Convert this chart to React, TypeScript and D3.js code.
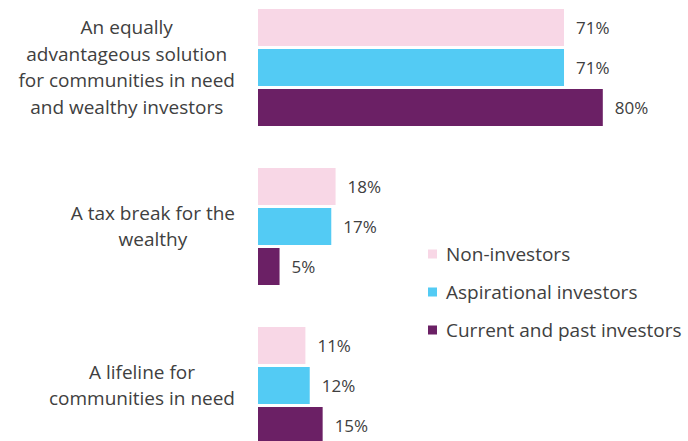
import React from "react";
import * as d3 from "d3";

const categories: string[][] = [
  ["An equally", "advantageous solution", "for communities in need", "and wealthy investors"],
  ["A tax break for the", "wealthy"],
  ["A lifeline for", "communities in need"],
];
const seriesNames = ["Non-investors", "Aspirational investors", "Current and past investors"];
const nonInvestors = [71, 18, 11];
const aspirational = [71, 17, 12];
const currentPast = [80, 5, 15];
const seriesValues = [nonInvestors, aspirational, currentPast];
const colors = ["#F8D7E6", "#53CBF4", "#6B2065"];

const W = 688;
const H = 441;
const FONT = "'Open Sans', sans-serif";
const TEXT = "#404040";

let ctx: CanvasRenderingContext2D | null = null;
function measure(t: string, size: number) {
  if (!ctx) ctx = document.createElement("canvas").getContext("2d");
  if (!ctx) return t.length * size * 0.5;
  ctx.font = `${size}px 'Open Sans'`;
  return ctx.measureText(t).width;
}

export default function App() {
  const x = d3.scaleLinear().domain([0, 100]).range([258, 258 + 431]);
  const yGroup = d3.scaleBand<number>().domain([0, 1, 2]).range([9, 9 + 3 * 159]).paddingInner(0).paddingOuter(0);
  const ySeries = d3.scaleBand<number>().domain([0, 1, 2]).range([0, 117]).paddingInner(0.075).paddingOuter(0);
  const catSize = 19;
  const lineH = 26.7;
  const labelRight = 235;

  return (
    <svg width={W} height={H} style={{ position: "absolute", left: 0, top: 0, background: "#fff" }}>
      {categories.map((lines, gi) => {
        const g0 = yGroup(gi)!;
        const center = g0 + 60;
        const widest = d3.max(lines, (l) => measure(l, catSize))!;
        const cx = labelRight - widest / 2;
        const firstBaseline = center + 5 - ((lines.length - 1) * lineH) / 2;
        return (
          <g key={gi}>
            {lines.map((l, li) => (
              <text key={li} x={cx} y={firstBaseline + li * lineH} textAnchor="middle" fontFamily={FONT} fontSize={catSize} fill={TEXT}>
                {l}
              </text>
            ))}
            {seriesValues.map((vals, si) => {
              const y = g0 + ySeries(si)!;
              const bw = ySeries.bandwidth();
              return (
                <g key={si}>
                  <rect x={x(0)} y={y} width={x(vals[gi]) - x(0)} height={bw} fill={colors[si]} />
                  <text x={x(vals[gi]) + 12} y={y + bw / 2} dominantBaseline="central" fontFamily={FONT} fontSize={17} fill={TEXT}>
                    {vals[gi]}%
                  </text>
                </g>
              );
            })}
          </g>
        );
      })}
      {seriesNames.map((n, i) => {
        const cy = 254 + i * 38;
        return (
          <g key={n}>
            <rect x={428} y={cy - 4.5} width={9} height={9} fill={colors[i]} />
            <text x={446} y={cy} dominantBaseline="central" fontFamily={FONT} fontSize={19} fill={TEXT}>
              {n}
            </text>
          </g>
        );
      })}
    </svg>
  );
}
